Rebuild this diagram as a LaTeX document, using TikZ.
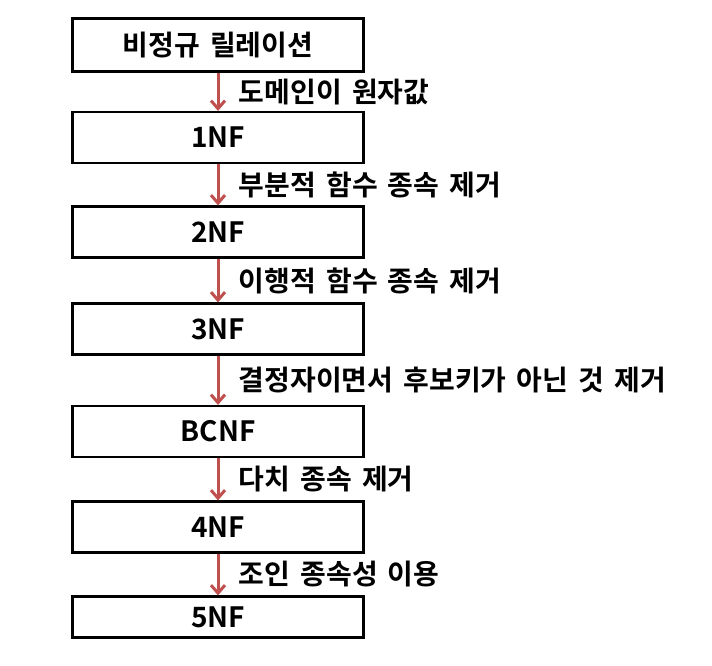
\documentclass[tikz,border=0pt]{standalone}
\usepackage{fontspec}
\setmainfont{Noto Sans CJK KR}[BoldFont={Noto Sans CJK KR Bold},WordSpace=1.6]
\usetikzlibrary{arrows.meta,positioning}
\tikzset{nf/.style = {rectangle, minimum width=291pt, minimum height=51pt, text centered, draw=black, line width=2.2pt, font=\fontsize{28}{32}\selectfont\bfseries},
	step arrow/.style = {-{Straight Barb[length=8pt,width=14pt]}, draw={rgb,255:red,192;green,80;blue,77}, line width=3pt},
	lbl/.style = {anchor=west, font=\fontsize{28}{32}\selectfont\bfseries}}

\begin{document}
\begin{tikzpicture}[x=1pt,y=-1pt]
		\useasboundingbox (0,0) rectangle (712,666);
		\node[nf, minimum height=53pt](unnorm) at (218,45){비정규 릴레이션};
		\node[nf](nf1) at (218,137.5){1NF};
		\node[nf](nf2) at (218,232){2NF};
		\node[nf](nf3) at (218,329){3NF};
		\node[nf](bcnf) at (218,431.5){BCNF};
		\node[nf](nf4) at (218,527){4NF};
		\node[nf, minimum height=41pt](nf5) at (218,617){5NF};
		
		\draw[step arrow](unnorm)--(nf1) node[lbl, midway, xshift=16pt]{도메인이 원자값};
		\draw[step arrow](nf1)--(nf2) node[lbl, midway, xshift=16pt]{부분적 함수 종속 제거};
		\draw[step arrow](nf2)--(nf3) node[lbl, midway, xshift=16pt]{이행적 함수 종속 제거};
		\draw[step arrow](nf3)--(bcnf) node[lbl, midway, xshift=16pt]{결정자이면서 후보키가 아닌 것 제거};
		\draw[step arrow](bcnf)--(nf4) node[lbl, midway, xshift=16pt]{다치 종속 제거};
		\draw[step arrow](nf4)--(nf5) node[lbl, midway, xshift=16pt]{조인 종속성 이용};
	\end{tikzpicture}
\end{document}
